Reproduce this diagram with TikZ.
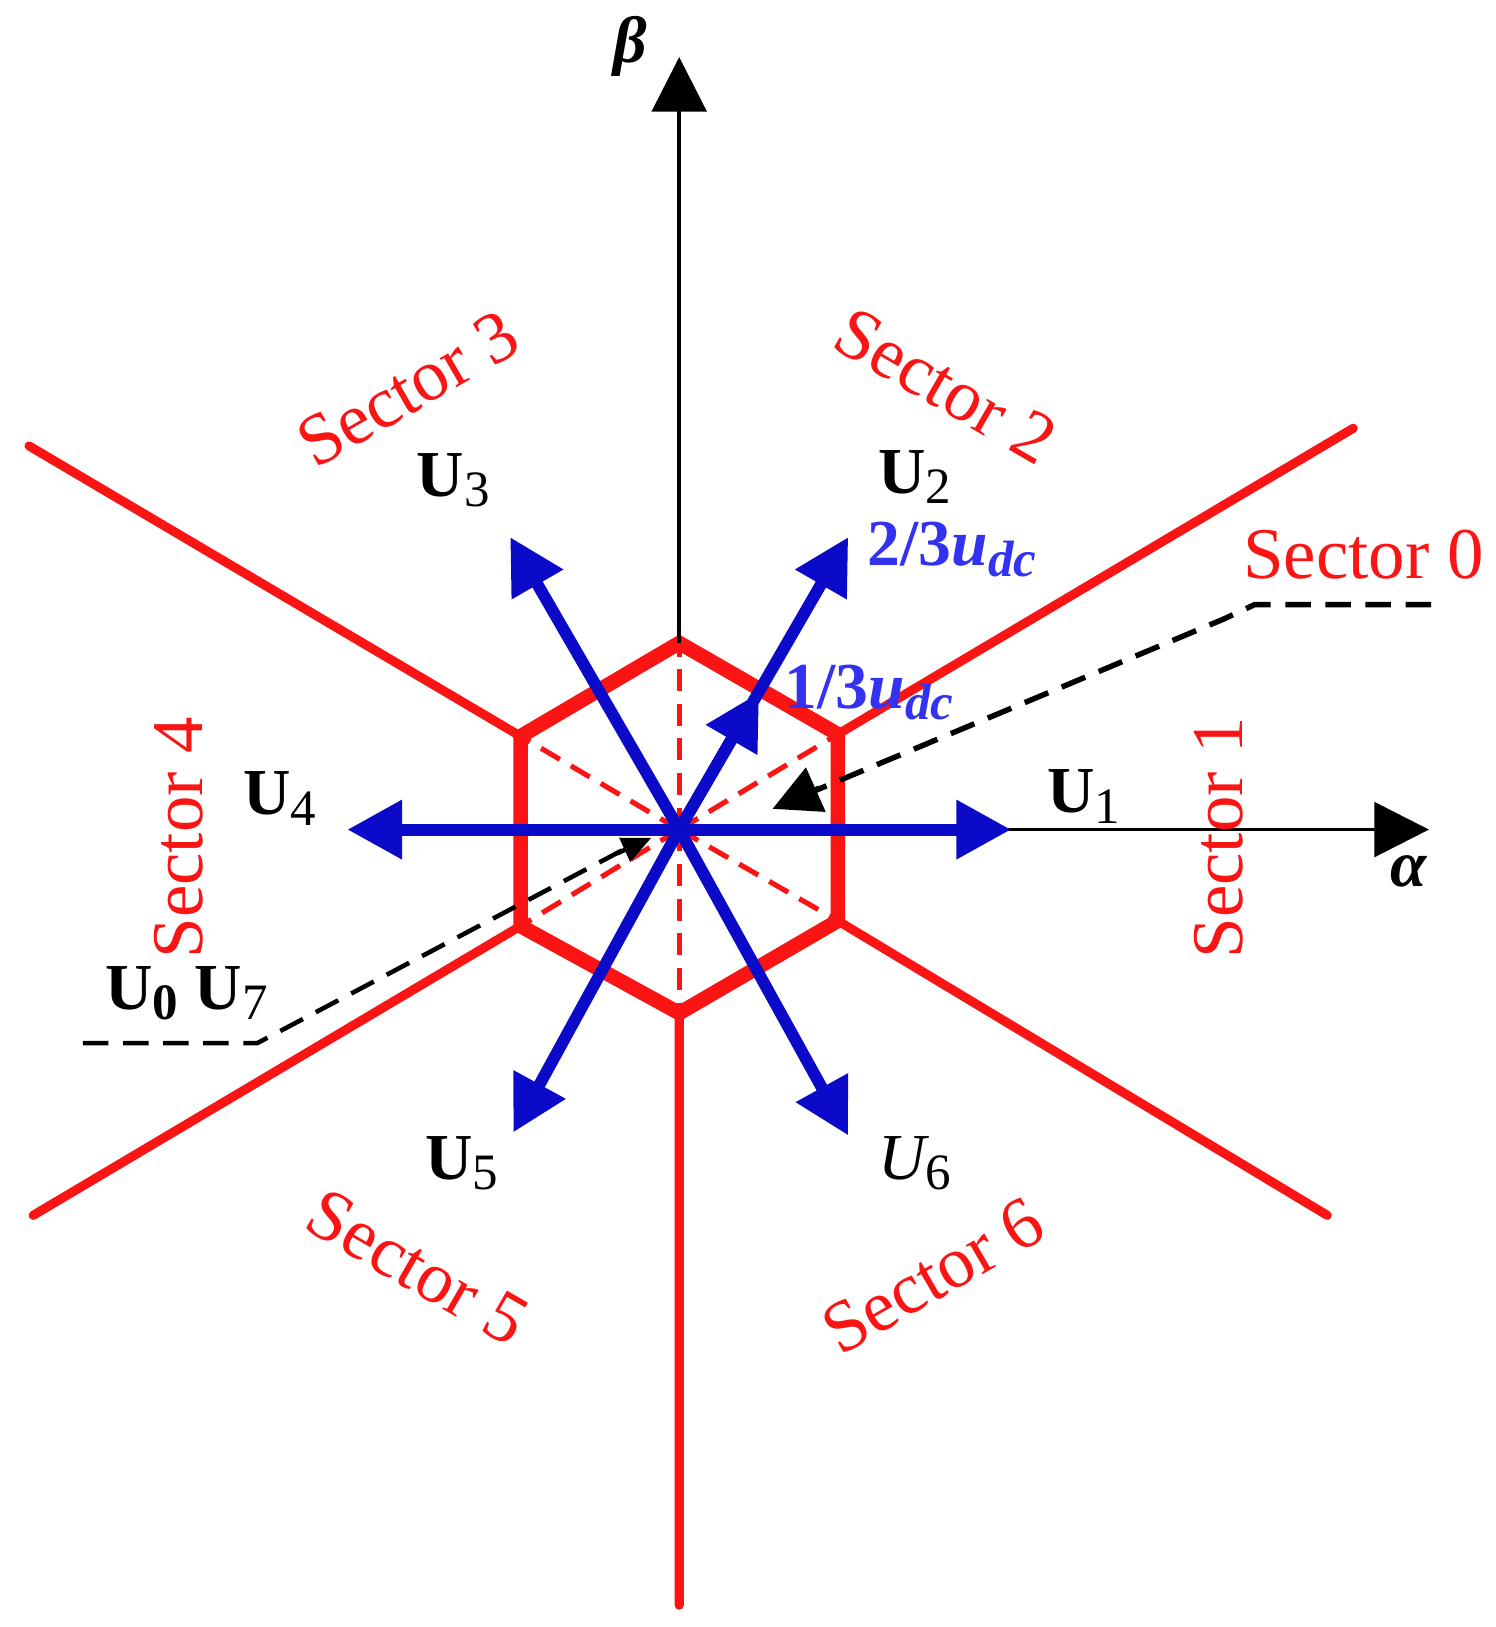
\documentclass[tikz,border=0pt]{standalone}
\usepackage{fontspec}
\setmainfont{Liberation Serif}
\usetikzlibrary{arrows.meta}
\newcommand{\Lsub}[1]{\raisebox{-0.35ex}{\fontsize{28}{30}\selectfont #1}}
\definecolor{myred}{RGB}{250,20,20}
\definecolor{myblue}{RGB}{10,10,200}
\definecolor{lblue}{RGB}{50,50,240}
\begin{document}
\begin{tikzpicture}[x=0.02cm,y=-0.02cm,
 redl/.style={myred,line width=5pt,line cap=round},
 reddash/.style={myred,line width=2.8pt,dash pattern=on 12pt off 7pt},
 bluearr/.style={myblue,line width=6.5pt,-{Triangle[length=30pt,width=31pt]}},
 axis/.style={black,line width=2pt,-{Triangle[length=30pt,width=30pt]}},
 blkdash/.style={black,line width=3pt,dash pattern=on 14pt off 8pt},
 sec/.style={myred,font=\fontsize{40}{44}\selectfont},
 ulab/.style={font=\fontsize{36}{40}\selectfont\bfseries},
 ]
\useasboundingbox (0,0) rectangle (1442,1569);
\coordinate (O) at (655,800);
\coordinate (h1) at (808,708); \coordinate (h2) at (655,620);
\coordinate (h3) at (502,710); \coordinate (h4) at (502,893);
\coordinate (h5) at (655,977); \coordinate (h6) at (808,888);
\coordinate (e1) at (1305,413); \coordinate (e3) at (28,430);
\coordinate (e4) at (32,1172); \coordinate (e5) at (655,1548);
\coordinate (e6) at (1280,1172);
\draw[redl] (h1)--(e1) (h3)--(e3) (h4)--(e4) (h5)--(e5) (h6)--(e6);
\foreach \h in {h1,h2,h3,h4,h5,h6} \draw[reddash] (O)--(\h);
\draw[myred,line width=8pt,line join=miter] (h1)--(h2)--(h3)--(h4)--(h5)--(h6)--cycle;
\draw[axis] (O) -- (1378,800) coordinate (ax);
\draw[axis] (h2) -- (655,55) coordinate (bx);
\draw[bluearr] (O)--(975,800);
\draw[bluearr] (O)--(818,518);
\draw[bluearr] (O)--(492,518);
\draw[bluearr] (O)--(335,800);
\draw[bluearr] (O)--(495,1092);
\draw[bluearr] (O)--(818,1095);
\draw[bluearr] (O)--(732,668);
\draw[blkdash] (1380,583) -- (1210,583) -- (1180,597) -- (780,765);
\draw[black,line width=3pt,-{Triangle[length=26pt,width=26pt]}] (790,760)--(745,780);
\draw[blkdash,line width=2.5pt] (80,1006) -- (248,1006) -- (600,820);
\draw[black,line width=2.5pt,-{Triangle[length=16pt,width=14pt]}] (595,823)--(628,808);
\node[font=\fontsize{36}{40}\selectfont\bfseries\itshape] (beta) at (608,45) {β};
\node[font=\fontsize{36}{40}\selectfont\bfseries\itshape] (alpha) at (1358,840) {α};
\node[sec,rotate=30] (s3) at (393,375) {Sector 3};
\node[sec,rotate=-30] (s2) at (912,372) {Sector 2};
\node[sec,rotate=90] (s1) at (1175,808) {Sector 1};
\node[sec,rotate=90] (s4) at (172,808) {Sector 4};
\node[sec,rotate=-30] (s5) at (403,1222) {Sector 5};
\node[sec,rotate=30] (s6) at (900,1230) {Sector 6};
\node[sec] (s0) at (1315,535) {Sector 0};
\node[ulab] (u3) at (437,463) {U\Lsub{\mdseries 3}};
\node[ulab] (u2) at (882,460) {U\Lsub{\mdseries 2}};
\node[ulab] (u1) at (1045,768) {U\Lsub{\mdseries 1}};
\node[ulab] (u4) at (270,770) {U\Lsub{\mdseries 4}};
\node[ulab] (u5) at (445,1122) {U\Lsub{\mdseries 5}};
\node[font=\fontsize{36}{40}\selectfont\itshape] (u6) at (882,1122) {U\Lsub{\upshape 6}};
\node[ulab] (u07) at (180,958) {U\Lsub{0} U\Lsub{\mdseries 7}};
\node[lblue,font=\fontsize{36}{40}\selectfont\bfseries] (v2) at (918,530) {2/3\textit{u}\Lsub{\textit{dc}}};
\node[lblue,font=\fontsize{36}{40}\selectfont\bfseries] (v1) at (838,668) {1/3\textit{u}\Lsub{\textit{dc}}};
\end{tikzpicture}
\end{document}
